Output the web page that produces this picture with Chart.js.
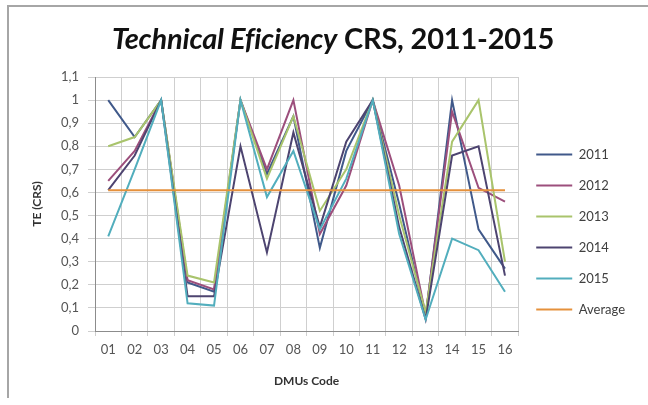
<!DOCTYPE html>
<html>
<head>
<meta charset="utf-8">
<script src="https://cdn.jsdelivr.net/npm/chart.js@4.4.1/dist/chart.umd.min.js"></script>
<style>
  body { margin: 0; background: #fff; }
  #wrap { position: relative; width: 648px; height: 405px; overflow: hidden; }
  #frame { position: absolute; left: 7px; top: 5px; right: -5px; bottom: 7px;
           border-left: 2px solid #a6a6a6; border-top: 2px solid #a6a6a6; }
  #title { position: absolute; left: 0; width: 666px; top: 20px; text-align: center;
           font: bold 29px Lato, "Open Sans", sans-serif; color: #111; letter-spacing: -0.2px; }
  canvas { position: absolute; left: 0; top: 0; }
</style>
</head>
<body>
<div id="wrap">
  <div id="frame"></div>
  <canvas id="teChart" width="648" height="405"></canvas>
  <div id="title"><i>Technical Eficiency</i> CRS, 2011-2015</div>
</div>
<script>
// DMU codes on the x axis
const dmuCodes = ['01','02','03','04','05','06','07','08','09','10','11','12','13','14','15','16'];

// technical efficiency (CRS) per year
const te2011 = [1.00, 0.84, 1.00, 0.21, 0.17, 1.00, 0.68, 0.93, 0.36, 0.78, 1.00, 0.55, 0.06, 1.00, 0.44, 0.27];
const te2012 = [0.65, 0.78, 1.00, 0.22, 0.18, 1.00, 0.70, 1.00, 0.42, 0.63, 1.00, 0.63, 0.07, 0.95, 0.62, 0.56];
const te2013 = [0.80, 0.84, 1.00, 0.24, 0.21, 1.00, 0.66, 0.93, 0.52, 0.70, 1.00, 0.50, 0.08, 0.82, 1.00, 0.30];
const te2014 = [0.61, 0.76, 1.00, 0.15, 0.15, 0.80, 0.34, 0.86, 0.45, 0.82, 1.00, 0.45, 0.05, 0.76, 0.80, 0.24];
const te2015 = [0.41, 0.70, 1.00, 0.12, 0.11, 1.00, 0.58, 0.78, 0.44, 0.66, 1.00, 0.42, 0.05, 0.40, 0.35, 0.17];
const teAverage = [0.61, 0.61, 0.61, 0.61, 0.61, 0.61, 0.61, 0.61, 0.61, 0.61, 0.61, 0.61, 0.61, 0.61, 0.61, 0.61];

const yTicks = [0, 0.1, 0.2, 0.3, 0.4, 0.5, 0.6, 0.7, 0.8, 0.9, 1, 1.1];

function line(label, data, color, order){
  return { label: label, data: data, borderColor: color, backgroundColor: color,
           borderWidth: 2, pointRadius: 0, tension: 0, order: order };
}

const font = "Lato, 'Open Sans', sans-serif";

new Chart(document.getElementById('teChart'), {
  type: 'line',
  data: {
    labels: dmuCodes,
    datasets: [
      line('2011', te2011, '#40598a', 5),
      line('2012', te2012, '#9c4f7c', 4),
      line('2013', te2013, '#a9c46c', 3),
      line('2014', te2014, '#4d4470', 2),
      line('2015', te2015, '#52aebd', 1),
      line('Average', teAverage, '#e5913c', 0)
    ]
  },
  options: {
    responsive: false,
    animation: false,
    layout: { padding: { top: 77, left: 25, right: 13, bottom: 0 } },
    plugins: {
      tooltip: { enabled: false },
      legend: {
        position: 'right',
        align: 'start',
        title: { display: true, text: '', font: { size: 10 }, padding: { top: 41, bottom: 0 } },
        labels: { boxWidth: 36, boxHeight: 0, padding: 18, color: '#404040',
                  font: { family: font, size: 13 },
                  sort: (a, b) => a.datasetIndex - b.datasetIndex }
      }
    },
    scales: {
      x: {
        offset: true,
        grid: { offset: true, color: '#cfcfcf', tickLength: 5 },
        border: { color: '#8c8c8c' },
        ticks: { color: '#555', padding: 6, maxRotation: 0, autoSkip: false,
                 font: { family: font, size: 13 } },
        title: { display: true, text: 'DMUs Code', color: '#333',
                 font: { family: font, size: 12, weight: 'bold' }, padding: { top: 4, bottom: 17 } },
        afterFit: s => { s.height = 74; }
      },
      y: {
        min: 0, max: 1.1,
        afterBuildTicks: s => { s.ticks = yTicks.map(v => ({ value: v })); },
        grid: { color: '#cfcfcf', tickLength: 7 },
        border: { color: '#8c8c8c' },
        ticks: { color: '#555', padding: 9, font: { family: font, size: 13 },
                 callback: v => String(Math.round(v * 10) / 10).replace('.', ',') },
        title: { display: true, text: 'TE (CRS)', color: '#333',
                 font: { family: font, size: 12, weight: 'bold' }, padding: { top: 5, bottom: 0 } },
        afterFit: s => { s.width = 70; }
      }
    }
  }
});
</script>
</body>
</html>
